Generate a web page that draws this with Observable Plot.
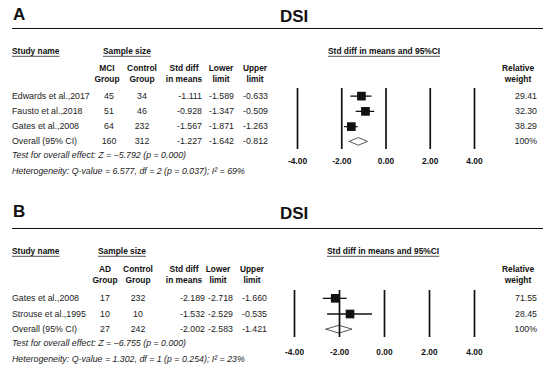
<!DOCTYPE html>
<html><head><meta charset="utf-8">
<script src="https://cdn.jsdelivr.net/npm/d3@7"></script>
<script src="https://cdn.jsdelivr.net/npm/@observablehq/plot@0.6"></script>
<style>
html,body{margin:0;padding:0;background:#fff;}
#root{position:relative;width:550px;height:372px;font-family:"Liberation Sans",Arial,sans-serif;color:#222;overflow:hidden;}
#root svg{position:absolute;left:0;}
.t{position:absolute;white-space:nowrap;line-height:1;transform:translateY(-50%);font-size:8.8px;}
.c{transform:translate(-50%,-50%);text-align:center;}
.r{transform:translate(-100%,-50%);text-align:right;}
.b{font-weight:bold;font-size:8.4px;color:#111;}
.u{text-decoration:underline;text-underline-offset:2px;text-decoration-color:#555;}
.big{font-weight:bold;font-size:17px;color:#111;}
.i{font-style:italic;}
.hr{position:absolute;left:12px;width:531px;height:0;border-top:1.6px solid #111;}
</style></head>
<body><div id="root"></div>
<script>
// ---- Data: Panel A (MCI vs control) ----
const studiesA = ["Edwards et al.,2017", "Fausto et al.,2018", "Gates et al.,2008"];
const groupNA = [45, 51, 64];
const controlNA = [34, 46, 232];
const effectA = [-1.111, -0.928, -1.567];
const lowerA = [-1.589, -1.347, -1.871];
const upperA = [-0.633, -0.509, -1.263];
const weightA = ["29.41", "32.30", "38.29"];
const overallNA = [160, 312];
const overallA = [-1.227, -1.642, -0.812];
const testA = "Test for overall effect: Z = \u22125.792 (p = 0.000)";
const hetA = "Heterogeneity: Q-value = 6.577, df = 2 (p = 0.037); I\u00b2 = 69%";

// ---- Data: Panel B (AD vs control) ----
const studiesB = ["Gates et al.,2008", "Strouse et al.,1995"];
const groupNB = [17, 10];
const controlNB = [232, 10];
const effectB = [-2.189, -1.532];
const lowerB = [-2.718, -2.529];
const upperB = [-1.660, -0.535];
const weightB = ["71.55", "28.45"];
const overallNB = [27, 242];
const overallB = [-2.002, -2.583, -1.421];
const testB = "Test for overall effect: Z = \u22126.755 (p = 0.000)";
const hetB = "Heterogeneity: Q-value = 1.302, df = 1 (p = 0.254); I\u00b2 = 23%";

const xTicks = [-4, -2, 0, 2, 4];
const overallLabel = "Overall (95% CI)";
const weightOverall = "100%";

const root = document.getElementById("root");
function put(text, x, y, cls) {
  const d = document.createElement("div");
  d.className = "t " + (cls || "");
  d.textContent = text;
  d.style.left = x + "px";
  d.style.top = y + "px";
  root.appendChild(d);
  return d;
}
function put2(lines, x, y1, y2, cls) {
  put(lines[0], x, y1, cls);
  put(lines[1], x, y2, cls);
}

function panel(cfg) {
  const n = cfg.effect.length;
  const rows = cfg.effect.map((e, i) => ({i, effect: e, lower: cfg.lower[i], upper: cfg.upper[i]}));
  const [oe, ol, ou] = cfg.overall;
  const h = 0.25;
  const diamond = [
    {x: ol, y1: n, y2: n},
    {x: oe, y1: n - h, y2: n + h},
    {x: ou, y1: n, y2: n}
  ];
  const H = 186;
  const L = cfg.L;
  const T = L.top;
  const chart = Plot.plot({
    width: 550, height: H,
    marginTop: L.frameTop, marginBottom: H - L.frameBottom,
    marginLeft: L.x0, marginRight: 550 - L.x1,
    x: {domain: [-4, 4]},
    y: {domain: [-0.5, n + 0.5], reverse: true, axis: null},
    style: {fontFamily: '"Liberation Sans",Arial,sans-serif', background: "transparent", overflow: "visible", color: "#111"},
    marks: [
      Plot.areaY(diamond, {x: "x", y1: "y1", y2: "y2", fill: "white", stroke: "#555", strokeWidth: 1}),
      Plot.ruleX(xTicks, {stroke: "#111", strokeWidth: 1.7}),
      Plot.ruleY(rows, {y: "i", x1: "lower", x2: "upper", stroke: "#111", strokeWidth: 1.3}),
      Plot.dot(rows, {x: "effect", y: "i", symbol: "square", r: 4.9, fill: "#111", stroke: "none"}),
      Plot.axisX(xTicks, {tickSize: 0, tickPadding: L.pad, tickFormat: d => d.toFixed(2), fontWeight: "bold", fontSize: 8.4, label: null, fill: "#111"})
    ]
  });
  chart.style.top = T + "px";
  root.appendChild(chart);
  const ys = chart.scale("y");
  const rowY = i => T + ys.apply(i);

  put(cfg.letter, 13, T + L.titleY, "big");
  put("DSI", 280, T + L.titleY + 2, "big");
  const hr = document.createElement("div");
  hr.className = "hr"; hr.style.top = (T + L.ruleY - 1) + "px"; root.appendChild(hr);

  put("Study name", 12, T + L.h0, "b u");
  put("Sample size", L.sampleX, T + L.h0, "b u");
  put("Std diff in means and 95%CI", L.forestHeadX, T + L.h0, "b u");
  put2([cfg.groupHead, "Group"], L.cGroup, T + L.h1, T + L.h2, "b c");
  put2(["Control", "Group"], L.cControl, T + L.h1, T + L.h2, "b c");
  put2(["Std diff", "in means"], L.cStd, T + L.h1, T + L.h2, "b c");
  put2(["Lower", "limit"], L.cLower, T + L.h1, T + L.h2, "b c");
  put2(["Upper", "limit"], L.cUpper, T + L.h1, T + L.h2, "b c");
  put2(["Relative", "weight"], 518, T + L.h1, T + L.h2, "b c");

  const fmt = v => v.toFixed(3);
  for (let i = 0; i < n; i++) {
    const y = rowY(i);
    put(cfg.studies[i], 12, y);
    put(String(cfg.groupN[i]), L.vGroup, y, "c");
    put(String(cfg.controlN[i]), L.vControl, y, "c");
    put(fmt(cfg.effect[i]), L.rStd, y, "r");
    put(fmt(cfg.lower[i]), L.rLower, y, "r");
    put(fmt(cfg.upper[i]), L.rUpper, y, "r");
    put(cfg.weight[i], 537, y, "r");
  }
  const yo = rowY(n);
  put(overallLabel, 12, yo);
  put(String(cfg.overallN[0]), L.vGroup, yo, "c");
  put(String(cfg.overallN[1]), L.vControl, yo, "c");
  put(fmt(oe), L.rStd, yo, "r");
  put(fmt(ol), L.rLower, yo, "r");
  put(fmt(ou), L.rUpper, yo, "r");
  put(weightOverall, 537, yo, "r");
  put(cfg.test, 12, T + L.testY, "i");
  put(cfg.het, 12, T + L.hetY, "i");
}

panel({
  letter: "A", groupHead: "MCI", studies: studiesA, groupN: groupNA, controlN: controlNA,
  effect: effectA, lower: lowerA, upper: upperA, weight: weightA,
  overallN: overallNA, overall: overallA, test: testA, het: hetA,
  L: {top: 0, frameTop: 88, frameBottom: 149, x0: 297, x1: 474, pad: 9,
      titleY: 14, ruleY: 29, h0: 51, h1: 68, h2: 79, sampleX: 103, forestHeadX: 328,
      cGroup: 107, cControl: 142, cStd: 184, cLower: 221, cUpper: 255,
      vGroup: 109, vControl: 142, rStd: 202, rLower: 234, rUpper: 268,
      testY: 155, hetY: 171}
});
panel({
  letter: "B", groupHead: "AD", studies: studiesB, groupN: groupNB, controlN: controlNB,
  effect: effectB, lower: lowerB, upper: upperB, weight: weightB,
  overallN: overallNB, overall: overallB, test: testB, het: hetB,
  L: {top: 186, frameTop: 104, frameBottom: 151, x0: 294, x1: 474, pad: 12,
      titleY: 25, ruleY: 43, h0: 65, h1: 83, h2: 94, sampleX: 98, forestHeadX: 327,
      cGroup: 105, cControl: 138, cStd: 184, cLower: 218, cUpper: 252,
      vGroup: 105, vControl: 138, rStd: 205, rLower: 233, rUpper: 267,
      testY: 157, hetY: 173}
});
</script>
</body></html>
